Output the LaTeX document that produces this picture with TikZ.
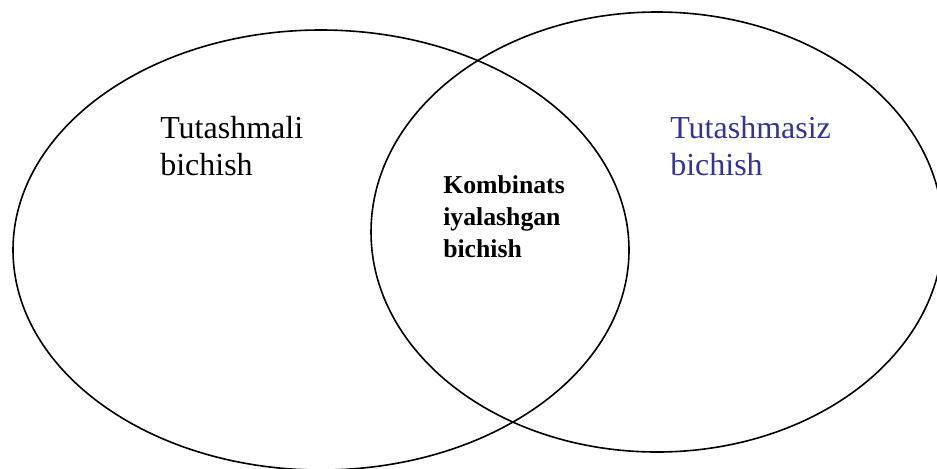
\documentclass[tikz,border=0pt]{standalone}
\usepackage{fontspec}
\setmainfont{Liberation Serif}
\definecolor{setblue}{RGB}{51,51,153}
\tikzset{
  setline/.style={line width=1.2pt},
  setlabel/.style={anchor=west, align=left, inner sep=0pt, font=\fontsize{24}{28}\selectfont},
  midlabel/.style={anchor=west, align=left, inner sep=0pt, font=\fontsize{19.3}{24}\selectfont\bfseries}
}
\begin{document}
\begin{tikzpicture}[x=0.75pt, y=-0.75pt]
\useasboundingbox (0,0) rectangle (937,468);

\draw[setline] (321,250) ellipse [x radius=231pt, y radius=165pt];
\draw[setline] (657,232) ellipse [x radius=214.5pt, y radius=165pt];

\node (tutash) [setlabel] at (160,146) {Tutashmali\\bichish};
\node (tutashsiz) [setlabel, text=setblue] at (670,146) {Tutashmasiz\\bichish};
\node (komb) [midlabel] at (443,217) {Kombinats\\iyalashgan\\bichish};
\end{tikzpicture}
\end{document}
